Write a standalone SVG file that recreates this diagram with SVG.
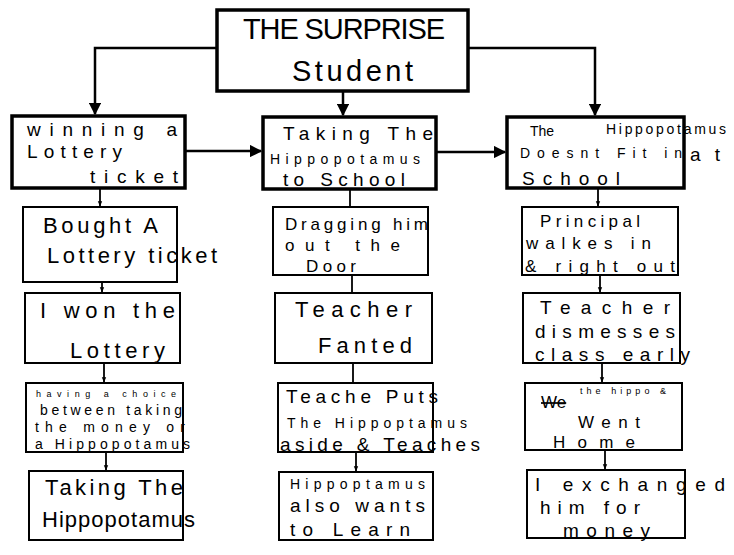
<svg xmlns="http://www.w3.org/2000/svg" width="734" height="555" viewBox="0 0 734 555">
<style>
.bx{fill:#fff;stroke:#000;stroke-width:2}
.bt{fill:#fff;stroke:#000;stroke-width:3.5}
.ln{fill:none;stroke:#000;stroke-width:2.5}
.sl{fill:none;stroke:#000;stroke-width:1.8}
text{font-family:"Liberation Sans","DejaVu Sans",sans-serif;fill:#000;font-size:22px}
.big{font-size:29px}
.m{font-size:19px}
.n{font-size:17px}
.sm{font-size:14px}
.xs{font-size:9px}
</style>
<defs>
<marker id="ah" viewBox="0 0 10 10" refX="9" refY="5" markerWidth="5" markerHeight="5" orient="auto" markerUnits="strokeWidth"><path d="M0,0 L10,5 L0,10 z" fill="#000"/></marker>
<marker id="as" viewBox="0 0 10 10" refX="9" refY="5" markerWidth="3" markerHeight="3" orient="auto" markerUnits="strokeWidth"><path d="M0,1 L10,5 L0,9 z" fill="#000"/></marker>
</defs>
<rect width="734" height="555" fill="#fff"/>
<g id="connectors">
<path class="ln" d="M217,48 H95 V114" marker-end="url(#ah)"/>
<path class="ln" d="M468,48 H595 V115" marker-end="url(#ah)"/>
<path class="ln" d="M343,91 V115" marker-end="url(#ah)"/>
<path class="ln" d="M185,151 H261" marker-end="url(#ah)"/>
<path class="ln" d="M436,152 H505" marker-end="url(#ah)"/>
<path class="sl" d="M100,188 V206" marker-end="url(#as)"/>
<path class="sl" d="M102,282 V292" marker-end="url(#as)"/>
<path class="sl" d="M104,363 V382" marker-end="url(#as)"/>
<path class="sl" d="M106,452 V470" marker-end="url(#as)"/>
<path class="sl" d="M350,189 V206"/>
<path class="sl" d="M352,275 V292"/>
<path class="sl" d="M353,363 V382"/>
<path class="sl" d="M356,452 V471" marker-end="url(#as)"/>
<path class="sl" d="M598,188 V206" marker-end="url(#as)"/>
<path class="sl" d="M600,275 V292" marker-end="url(#as)"/>
<path class="sl" d="M602,363 V382" marker-end="url(#as)"/>
<path class="sl" d="M605,450 V469" marker-end="url(#as)"/>
</g>
<g id="root">
<rect class="bt" x="217" y="10" width="251" height="81"/>
<text class="big" x="243" y="39" textLength="202" lengthAdjust="spacing">THE SURPRISE</text>
<text class="big" x="292" y="81" textLength="121" lengthAdjust="spacing">Student</text>
</g>
<g id="c1n1">
<rect class="bt" x="12" y="116" width="173" height="72"/>
<text class="m" x="27" y="136" textLength="150" lengthAdjust="spacing">winning  a</text>
<text class="m" x="27" y="158" textLength="95" lengthAdjust="spacing">Lottery</text>
<text class="m" x="90" y="183" textLength="88" lengthAdjust="spacing">ticket</text>
</g>
<g id="c1n2">
<rect class="bx" x="23" y="207" width="154" height="75"/>
<text x="43" y="233" textLength="115" lengthAdjust="spacing">Bought A</text>
<text x="47" y="263" textLength="170" lengthAdjust="spacing">Lottery ticket</text>
</g>
<g id="c1n3">
<rect class="bx" x="25" y="293" width="155" height="70"/>
<text x="40" y="318" textLength="135" lengthAdjust="spacing">I won the</text>
<text x="70" y="358" textLength="95" lengthAdjust="spacing">Lottery</text>
</g>
<g id="c1n4">
<rect class="bx" x="26" y="383" width="157" height="69"/>
<text class="xs" x="36" y="397" textLength="140" lengthAdjust="spacing">having a choice</text>
<text class="sm" x="40" y="415" textLength="142" lengthAdjust="spacing">between taking</text>
<text class="sm" x="35" y="432" textLength="150" lengthAdjust="spacing">the money or</text>
<text class="sm" x="35" y="449" textLength="155" lengthAdjust="spacing">a Hippopotamus</text>
</g>
<g id="c1n5">
<rect class="bx" x="29" y="471" width="154" height="69"/>
<text x="45" y="495" textLength="138" lengthAdjust="spacing">Taking The</text>
<text x="42" y="527" textLength="153" lengthAdjust="spacing">Hippopotamus</text>
</g>
<g id="c2n1">
<rect class="bt" x="263" y="117" width="173" height="72"/>
<text class="m" x="283" y="140" textLength="150" lengthAdjust="spacing">Taking  The</text>
<text class="sm" x="270" y="164" textLength="150" lengthAdjust="spacing">Hippopotamus</text>
<text class="m" x="283" y="186" textLength="122" lengthAdjust="spacing">to School</text>
</g>
<g id="c2n2">
<rect class="bx" x="273" y="207" width="155" height="68"/>
<text class="n" x="285" y="230" textLength="143" lengthAdjust="spacing">Dragging him</text>
<text class="n" x="285" y="251" textLength="115" lengthAdjust="spacing">out the</text>
<text class="n" x="306" y="272" textLength="50" lengthAdjust="spacing">Door</text>
</g>
<g id="c2n3">
<rect class="bx" x="275" y="293" width="157" height="70"/>
<text x="295" y="317" textLength="117" lengthAdjust="spacing">Teacher</text>
<text x="318" y="353" textLength="94" lengthAdjust="spacing">Fanted</text>
</g>
<g id="c2n4">
<rect class="bx" x="278" y="383" width="155" height="69"/>
<text class="m" x="286" y="403" textLength="152" lengthAdjust="spacing">Teache Puts</text>
<text class="sm" x="287" y="428" textLength="180" lengthAdjust="spacing">The Hippoptamus</text>
<text class="m" x="280" y="451" textLength="200" lengthAdjust="spacing">aside &amp; Teaches</text>
</g>
<g id="c2n5">
<rect class="bx" x="279" y="472" width="154" height="68"/>
<text class="sm" x="290" y="489" textLength="135" lengthAdjust="spacing">Hippoptamus</text>
<text class="m" x="290" y="512" textLength="135" lengthAdjust="spacing">also wants</text>
<text class="m" x="290" y="536" textLength="120" lengthAdjust="spacing">to Learn</text>
</g>
<g id="c3n1">
<rect class="bt" x="507" y="117" width="177" height="71"/>
<text class="sm" x="530" y="136">The</text>
<text class="sm" x="606" y="134" textLength="120" lengthAdjust="spacing">Hippopotamus</text>
<text class="sm" x="520" y="158" textLength="162" lengthAdjust="spacing">Doesnt  Fit in</text>
<text class="m" x="690" y="161" textLength="30" lengthAdjust="spacing">at</text>
<text class="m" x="522" y="185" textLength="98" lengthAdjust="spacing">School</text>
</g>
<g id="c3n2">
<rect class="bx" x="522" y="207" width="156" height="68"/>
<text class="n" x="540" y="227" textLength="100" lengthAdjust="spacing">Principal</text>
<text class="n" x="526" y="249" textLength="125" lengthAdjust="spacing">walkes  in</text>
<text class="n" x="525" y="272" textLength="150" lengthAdjust="spacing">&amp; right out</text>
</g>
<g id="c3n3">
<rect class="bx" x="523" y="293" width="157" height="70"/>
<text class="m" x="540" y="314" textLength="130" lengthAdjust="spacing">Teacher</text>
<text class="m" x="535" y="338" textLength="140" lengthAdjust="spacing">dismesses</text>
<text class="m" x="535" y="361" textLength="155" lengthAdjust="spacing">class early</text>
</g>
<g id="c3n4">
<rect class="bx" x="525" y="383" width="157" height="67"/>
<text class="xs" x="580" y="394" textLength="86" lengthAdjust="spacing">the hippo &amp;</text>
<text class="n" x="541" y="408" text-decoration="line-through">We</text>
<text class="n" x="578" y="428" textLength="62" lengthAdjust="spacing">Went</text>
<text class="n" x="553" y="448" textLength="82" lengthAdjust="spacing">Home</text>
</g>
<g id="c3n5">
<rect class="bx" x="527" y="470" width="158" height="68"/>
<text class="m" x="535" y="491" textLength="190" lengthAdjust="spacing">I  exchanged</text>
<text class="m" x="540" y="514" textLength="100" lengthAdjust="spacing">him for</text>
<text class="m" x="563" y="537" textLength="87" lengthAdjust="spacing">money</text>
</g>
</svg>
